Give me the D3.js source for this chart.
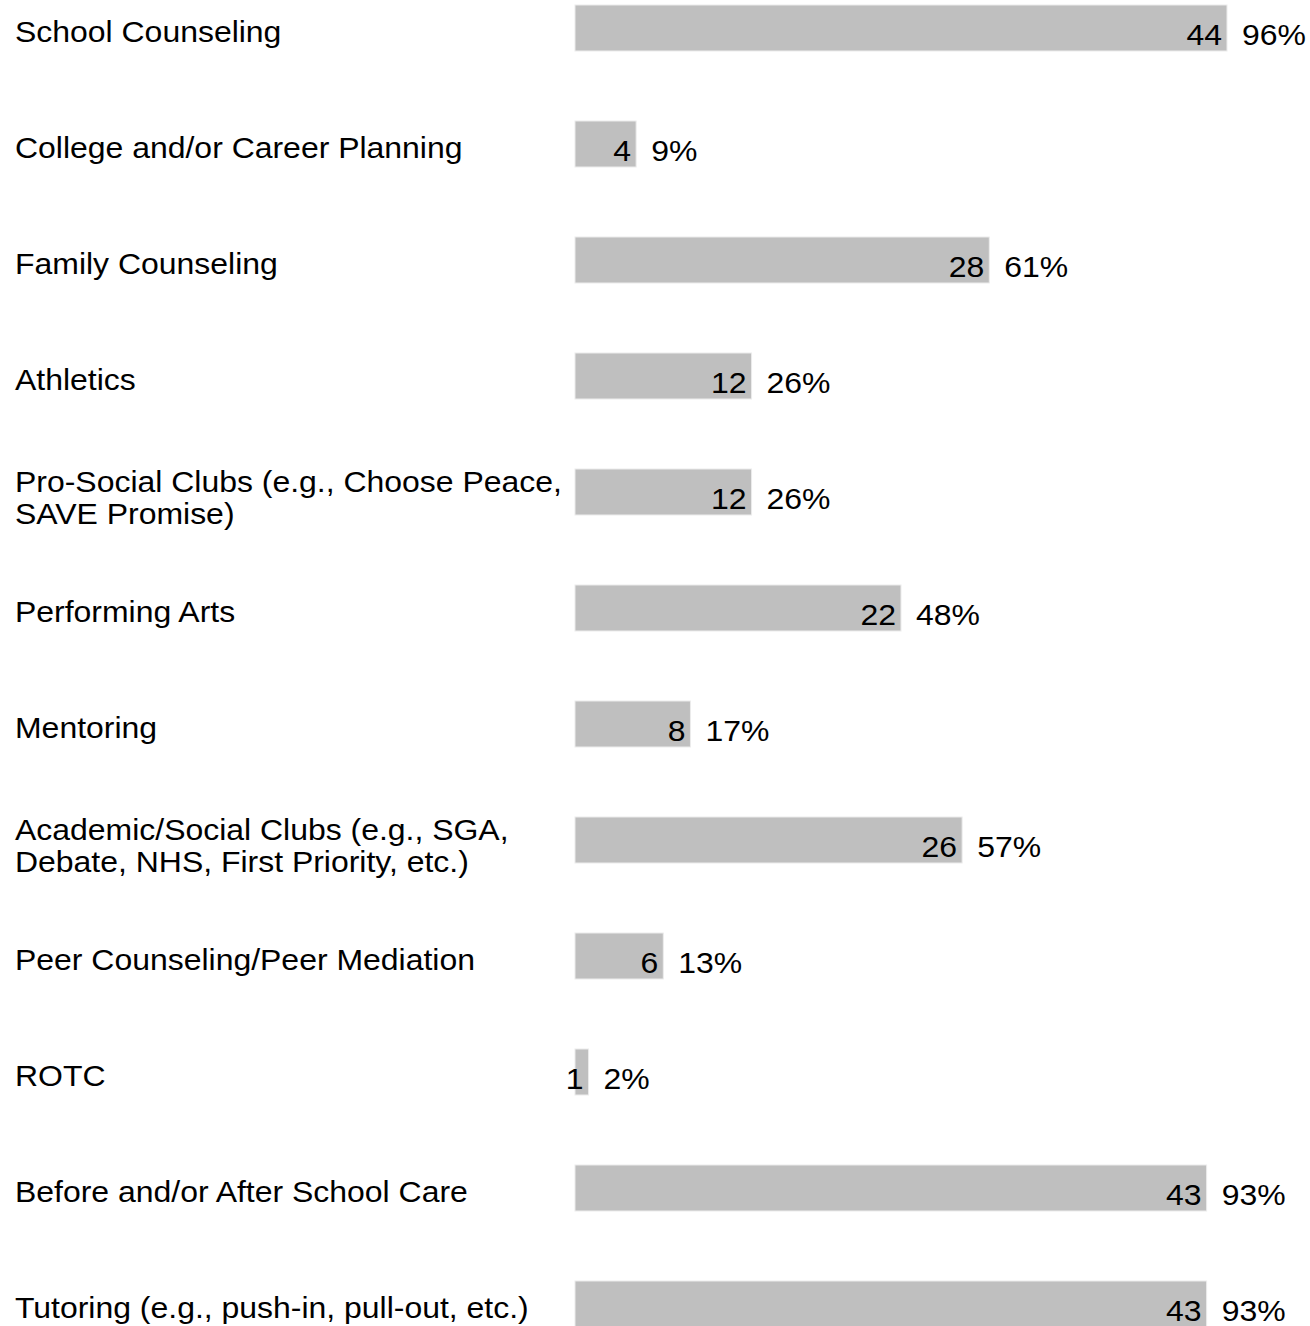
<!DOCTYPE html>
<html>
<head>
<meta charset="utf-8">
<script src="https://cdn.jsdelivr.net/npm/d3@7"></script>
<style>
  body { margin: 0; background: #fff; }
  text { font-family: "Liberation Sans", Arial, sans-serif; fill: #000; }
</style>
</head>
<body>
<div id="chart"></div>
<script>
// category labels (line breaks where the original wraps)
const categories = [
  ["School Counseling"],
  ["College and/or Career Planning"],
  ["Family Counseling"],
  ["Athletics"],
  ["Pro-Social Clubs (e.g., Choose Peace,", "SAVE Promise)"],
  ["Performing Arts"],
  ["Mentoring"],
  ["Academic/Social Clubs (e.g., SGA,", "Debate, NHS, First Priority, etc.)"],
  ["Peer Counseling/Peer Mediation"],
  ["ROTC"],
  ["Before and/or After School Care"],
  ["Tutoring (e.g., push-in, pull-out, etc.)"]
]
const counts = [44, 4, 28, 12, 12, 22, 8, 26, 6, 1, 43, 43]
// bar lengths follow the rounded percentages
const percents = [96, 9, 61, 26, 26, 48, 17, 57, 13, 2, 93, 93]

const width = 1310, height = 1326
const fontSize = 30
const stretch = 1.065   // original text is a bit wider than plain Arial

const svg = d3.select("#chart").append("svg")
    .attr("width", width)
    .attr("height", height)

const keys = categories.map((c, i) => i)

const x = d3.scaleLinear()
    .domain([0, 96])
    .range([575, 1227])

const y = d3.scaleBand()
    .domain(keys)
    .range([-30, -30 + 116 * keys.length])
    .paddingInner(70 / 116)
    .paddingOuter(35 / 116)

const row = svg.selectAll("g.row")
    .data(keys)
    .join("g")
    .attr("class", "row")
    .attr("transform", i => `translate(0,${y(i)})`)

function place(sel, fx, fy) {
  sel.attr("transform", (d, k) => `translate(${fx(d, k)},${fy(d, k)}) scale(${stretch},1)`)
}

// labels on the left
row.each(function(i) {
  const lines = categories[i]
  const lh = 32
  const base = 37 - (lines.length - 1) * 14.5
  d3.select(this).selectAll("text.label")
    .data(lines)
    .join("text")
    .attr("class", "label")
    .attr("font-size", fontSize)
    .call(place, () => 15, (d, k) => base + k * lh)
    .text(d => d)
})

row.append("rect")
    .attr("x", x(0))
    .attr("y", 0)
    .attr("width", i => x(percents[i]) - x(0))
    .attr("height", y.bandwidth())
    .attr("fill", "#bfbfbf")
    .attr("stroke", "#ececec")
    .attr("stroke-width", 1)

row.append("text")
    .attr("text-anchor", "end")
    .attr("font-size", fontSize)
    .call(place, i => x(percents[i]) - 5, () => 40)
    .text(i => counts[i])

row.append("text")
    .attr("font-size", fontSize)
    .call(place, i => x(percents[i]) + 15, () => 40)
    .text(i => percents[i] + "%")
</script>
</body>
</html>
